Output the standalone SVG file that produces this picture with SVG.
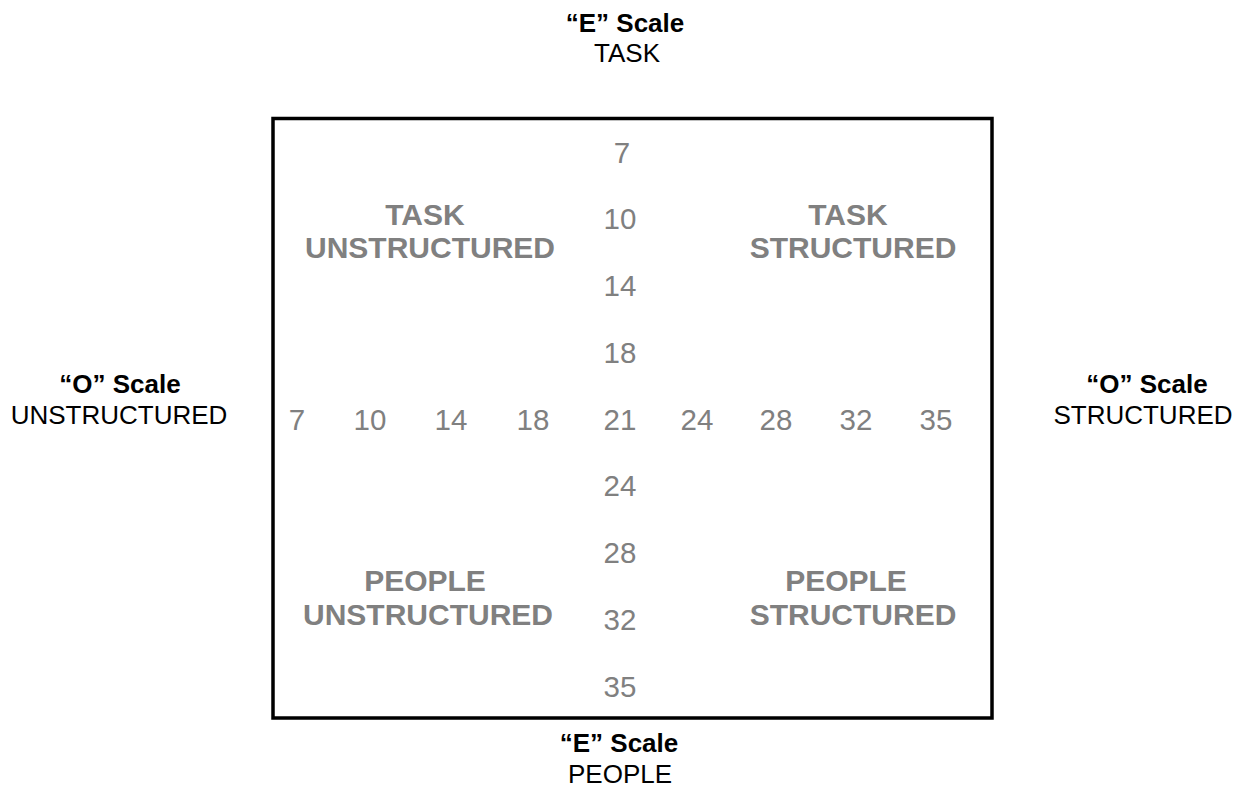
<svg xmlns="http://www.w3.org/2000/svg" width="1254" height="810" viewBox="0 0 1254 810">
<style>
.lbl{font-family:"Liberation Sans",Arial,sans-serif;font-size:26px;fill:#000;text-anchor:middle}
.b{font-weight:bold}
.num{font-family:"Liberation Sans",Arial,sans-serif;font-size:29.5px;fill:#808080;text-anchor:middle}
.quad{font-family:"Liberation Sans",Arial,sans-serif;font-size:30px;font-weight:bold;fill:#808080;text-anchor:middle}
</style>
<rect x="0" y="0" width="1254" height="810" fill="#fff"/>
<g id="frame">
<rect x="273" y="118.5" width="719" height="599.5" fill="none" stroke="#000" stroke-width="3.5"/>
</g>
<g id="label-top">
<text class="lbl b" x="625" y="32">“E” Scale</text>
<text class="lbl" x="627" y="62">TASK</text>
</g>
<g id="label-bottom">
<text class="lbl b" x="619" y="752">“E” Scale</text>
<text class="lbl" x="620" y="783">PEOPLE</text>
</g>
<g id="label-left">
<text class="lbl b" x="120" y="393">“O” Scale</text>
<text class="lbl" x="119" y="424">UNSTRUCTURED</text>
</g>
<g id="label-right">
<text class="lbl b" x="1147" y="393">“O” Scale</text>
<text class="lbl" x="1143" y="424">STRUCTURED</text>
</g>
<g id="scale-vertical">
<text class="num" x="622" y="163">7</text>
<text class="num" x="620" y="229">10</text>
<text class="num" x="620" y="296">14</text>
<text class="num" x="620" y="363">18</text>
<text class="num" x="620" y="496">24</text>
<text class="num" x="620" y="563">28</text>
<text class="num" x="620" y="630">32</text>
<text class="num" x="620" y="697">35</text>
</g>
<g id="scale-horizontal">
<text class="num" x="297" y="430">7</text>
<text class="num" x="370" y="430">10</text>
<text class="num" x="451" y="430">14</text>
<text class="num" x="533" y="430">18</text>
<text class="num" x="620" y="430">21</text>
<text class="num" x="697" y="430">24</text>
<text class="num" x="776" y="430">28</text>
<text class="num" x="856" y="430">32</text>
<text class="num" x="936" y="430">35</text>
</g>
<g id="q-task-unstructured">
<text class="quad" x="425" y="225">TASK</text>
<text class="quad" x="430" y="258">UNSTRUCTURED</text>
</g>
<g id="q-task-structured">
<text class="quad" x="848" y="225">TASK</text>
<text class="quad" x="853" y="258">STRUCTURED</text>
</g>
<g id="q-people-unstructured">
<text class="quad" x="425" y="591">PEOPLE</text>
<text class="quad" x="428" y="625">UNSTRUCTURED</text>
</g>
<g id="q-people-structured">
<text class="quad" x="846" y="591">PEOPLE</text>
<text class="quad" x="853" y="625">STRUCTURED</text>
</g>
</svg>
